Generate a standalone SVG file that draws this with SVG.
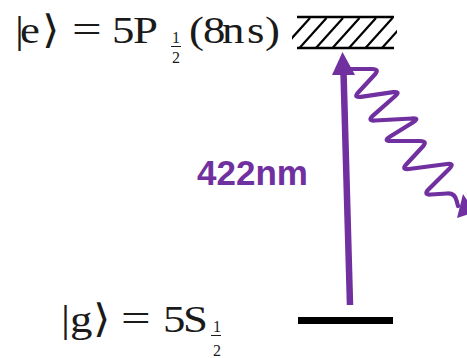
<svg xmlns="http://www.w3.org/2000/svg" width="467" height="358" viewBox="0 0 467 358">
<style>
.math{font-family:"Liberation Serif","DejaVu Serif",serif;font-size:39px;fill:#1a1a1a;}
.sub{font-family:"Liberation Serif","DejaVu Serif",serif;font-size:16px;fill:#1a1a1a;}
.frac{stroke:#1a1a1a;stroke-width:1;}
.lvl{stroke:#000;stroke-width:2.5;fill:none;}
.hatch{stroke:#000;stroke-width:2.2;}
.purple{fill:#7030A0;}
.wave{fill:none;stroke:#7030A0;stroke-width:4.2;stroke-linejoin:round;stroke-linecap:round;}
</style>
<defs>
<clipPath id="hc"><rect x="292" y="15" width="105" height="35"/></clipPath>
</defs>
<rect width="467" height="358" fill="#fff"/>
<g id="excited">
<g transform="scale(1.15 1)">
<text class="math" x="13 17.4 36.5" y="43">|e⟩</text>
<text class="math" x="97.4 115.7" y="43">5P</text>
<text class="math" x="164.3 176.5 193 214.8 230.4" y="43">(8ns)</text>
</g>
<text class="math" x="72" y="43" transform="translate(72 0) scale(1.35 1) translate(-72 0)">=</text>
<text class="sub" x="172" y="43">1</text>
<line class="frac" x1="171" y1="46.5" x2="181" y2="46.5"/>
<text class="sub" x="172" y="63">2</text>
<g clip-path="url(#hc)">
<line class="hatch" x1="283" y1="48" x2="310" y2="18"/>
<line class="hatch" x1="299.5" y1="48" x2="326.5" y2="18"/>
<line class="hatch" x1="316" y1="48" x2="343" y2="18"/>
<line class="hatch" x1="332.5" y1="48" x2="359.5" y2="18"/>
<line class="hatch" x1="349" y1="48" x2="376" y2="18"/>
<line class="hatch" x1="365.5" y1="48" x2="392.5" y2="18"/>
<line class="hatch" x1="382" y1="48" x2="409" y2="18"/>
</g>
<line class="lvl" x1="297" y1="17" x2="394" y2="17"/>
<line class="lvl" x1="297" y1="48" x2="394" y2="48"/>
</g>
<g id="ground">
<g transform="scale(1.15 1)">
<text class="math" x="53 60.9 80.9" y="332">|g⟩</text>
<text class="math" x="141.7 159.1" y="332">5S</text>
</g>
<text class="math" x="121" y="332" transform="translate(121 0) scale(1.35 1) translate(-121 0)">=</text>
<text class="sub" x="213" y="332">1</text>
<line class="frac" x1="211" y1="335.5" x2="221" y2="335.5"/>
<text class="sub" x="213" y="356">2</text>
<rect x="298" y="317" width="95" height="7" fill="#000"/>
</g>
<g id="connectors">
<line x1="350" y1="305" x2="343.5" y2="72" stroke="#7030A0" stroke-width="6.5"/>
<polygon class="purple" points="342.5,52 332,75 355,75"/>
<text x="197" y="185" font-family="Liberation Sans, Arial, sans-serif" font-weight="bold" font-size="35" fill="#7030A0">422nm</text>
<path class="wave" d="M351 69 L372 69 Q380 69 374.6 74.8 L358.4 92.2 Q353 98 360.9 96.8 L393.1 92.2 Q401 91 395 96.3 L373 115.7 Q367 121 375 120.5 L412 118.5 Q420 118 413.2 122.2 L389.8 136.8 Q383 141 391 141 L420 141 Q428 141 422.6 146.8 L406.4 164.2 Q401 170 408.9 169 L447.1 164 Q455 163 449.3 168.7 L428.7 189.3 Q423 195 431 194.5 L447 193.5 Q455 193 456.6 200.8 L458 206"/>
<polygon class="purple" points="457,218 463,194 475,212"/>
</g>
</svg>
